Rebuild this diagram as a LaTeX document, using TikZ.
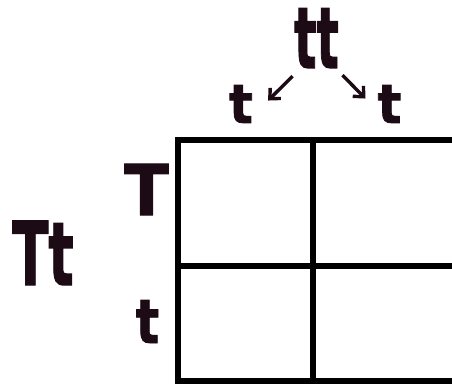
\documentclass[tikz,border=0pt]{standalone}
\usepackage{fontspec}
\setmainfont{DejaVu Sans}
\newfontfamily\allelefont{DejaVu Sans}[FakeBold=1.5]
\usetikzlibrary{arrows.meta}
\definecolor{ink}{HTML}{1C0A14}
% size, horizontal squeeze, letters
\newcommand{\allele}[3]{\scalebox{#2}[1]{\allelefont\bfseries\fontsize{#1}{#1}\selectfont\color{ink}#3}}

\begin{document}
\begin{tikzpicture}[x=1pt, y=-1pt, every node/.style={inner sep=0pt, anchor=base},
  gamarrow/.style={-{Straight Barb[length=8pt,width=15pt]}, line width=3.4pt, ink}]
\useasboundingbox (0,0) rectangle (452,385);

% Parent on top and its gametes
\node (parent) at (316.5,68) {\allele{85}{0.55}{tt}};
\node (gamL) at (241,123) {\allele{54}{0.92}{t}};
\node (gamR) at (389.5,123) {\allele{54}{0.92}{t}};
\draw[gamarrow] ([xshift=-24pt,yshift=-8pt]parent.south) -- ([xshift=15pt,yshift=3.5pt]gamL.east);
\draw[gamarrow] ([xshift=26pt,yshift=-7pt]parent.south) -- ([xshift=-12pt,yshift=5.5pt]gamR.west);

% Parent on the left and its gametes
\node (rowParent) at (43,285) {\allele{88}{0.6}{Tt}};
\node (gamT) at (146.5,215) {\allele{70}{0.93}{T}};
\node (gamt) at (147.5,343) {\allele{61}{0.8}{t}};

% Square
\draw[line width=5.5pt] (452,140) -- (178,140) -- (178,381) -- (452,381);
\draw[line width=5.5pt] (313,140) -- (313,381);
\draw[line width=5.5pt] (178,266) -- (452,266);
\end{tikzpicture}
\end{document}
